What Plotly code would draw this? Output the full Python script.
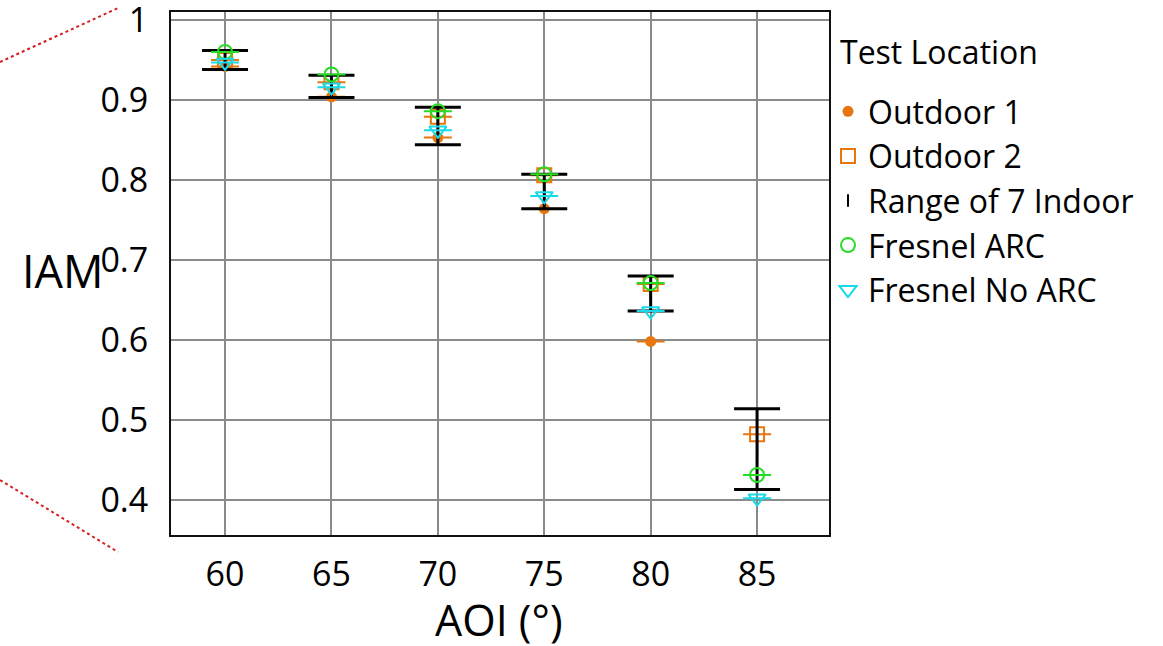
import plotly.graph_objects as go

aoi = [60, 65, 70, 75, 80, 85]
outdoor1 = [0.942, 0.904, 0.853, 0.764, 0.598, None]
outdoor2 = [0.950, 0.922, 0.879, 0.806, 0.670, 0.482]
indoor_min = [0.938, 0.903, 0.844, 0.764, 0.636, 0.413]
indoor_max = [0.962, 0.931, 0.891, 0.807, 0.680, 0.514]
fresnel_arc = [0.960, 0.932, 0.886, 0.807, 0.671, 0.431]
fresnel_noarc = [0.947, 0.916, 0.862, 0.780, 0.636, 0.402]
y_ticks = [0.4, 0.5, 0.6, 0.7, 0.8, 0.9, 1.0]
y_ticktext = ["0.4", "0.5", "0.6", "0.7", "0.8", "0.9", "1"]

ORANGE = "#E8760E"
GREEN = "#27DB27"
CYAN = "#1AD9E8"
FONT = "Open Sans"

indoor_mid = [(a + b) / 2 for a, b in zip(indoor_min, indoor_max)]
indoor_plus = [b - m for b, m in zip(indoor_max, indoor_mid)]
indoor_minus = [m - a for a, m in zip(indoor_min, indoor_mid)]

fig = go.Figure()


def cap(color):
    return dict(type="constant", value=0, width=14, thickness=2, color=color)


fig.add_trace(go.Scatter(
    x=aoi, y=outdoor1, mode="markers", name="Outdoor 1", legendgroup="a",
    marker=dict(symbol="circle", size=11, color=ORANGE),
    error_y=cap(ORANGE)))
fig.add_trace(go.Scatter(
    x=aoi, y=outdoor2, mode="markers", name="Outdoor 2", legendgroup="b",
    marker=dict(symbol="square-open", size=14, color=ORANGE, line=dict(width=2, color=ORANGE)),
    error_y=cap(ORANGE)))
fig.add_trace(go.Scatter(
    x=aoi, y=indoor_mid, mode="markers", name="Range of 7 Indoor", legendgroup="c",
    marker=dict(symbol="line-ns-open", size=9, color="black", line=dict(width=2, color="black")),
    error_y=dict(type="data", array=indoor_plus, arrayminus=indoor_minus, symmetric=False,
                 width=23, thickness=3, color="black")))
fig.add_trace(go.Scatter(
    x=aoi, y=fresnel_arc, mode="markers", name="Fresnel ARC", legendgroup="d",
    marker=dict(symbol="circle-open", size=14, color=GREEN, line=dict(width=2, color=GREEN)),
    error_y=cap(GREEN)))
fig.add_trace(go.Scatter(
    x=aoi, y=fresnel_noarc, mode="markers", name="Fresnel No ARC", legendgroup="e",
    marker=dict(symbol="triangle-down-open", size=15, color=CYAN, line=dict(width=2, color=CYAN)),
    error_y=cap(CYAN)))

L, T, R, B = 171, 12, 829, 535
W, H = 1163, 646
pw, ph = R - L, B - T


def px(x):
    return (x - L) / pw


def py(y):
    return (B - y) / ph


fig.update_layout(
    width=W, height=H,
    margin=dict(l=L, r=W - R, t=T, b=H - B, autoexpand=False),
    paper_bgcolor="white", plot_bgcolor="white",
    font=dict(family=FONT, color="black"),
    showlegend=True,
    legend=dict(
        font=dict(size=32, family=FONT),
        x=px(828), y=py(84), xanchor="left", yanchor="top",
        tracegroupgap=0, itemwidth=30, bgcolor="rgba(0,0,0,0)",
    ),
    xaxis=dict(
        range=[57.46, 88.38], tickvals=aoi, ticktext=[str(a) for a in aoi],
        showgrid=True, gridcolor="#8a8a8a", gridwidth=2, zeroline=False,
        showline=True, mirror=True, linecolor="#111", linewidth=2,
        ticks="", tickfont=dict(size=34, family=FONT), ticklabelstandoff=8,
        ticklabeloverflow="allow", automargin=False,
    ),
    yaxis=dict(
        range=[0.356, 1.01], tickvals=y_ticks, ticktext=y_ticktext,
        showgrid=True, gridcolor="#8a8a8a", gridwidth=2, zeroline=False,
        showline=True, mirror=True, linecolor="#111", linewidth=2,
        ticks="", tickfont=dict(size=34, family=FONT), ticklabelstandoff=14,
        ticklabeloverflow="allow", automargin=False,
    ),
    annotations=[
        dict(text="Test Location", xref="paper", yref="paper", x=px(838), y=py(52),
             xanchor="left", yanchor="middle", showarrow=False,
             font=dict(size=32, family=FONT)),
        dict(text="IAM", xref="paper", yref="paper", x=px(20), y=py(270),
             xanchor="left", yanchor="middle", showarrow=False,
             font=dict(size=45, family=FONT)),
        dict(text="AOI (°)", xref="paper", yref="paper", x=px(499), y=py(619),
             xanchor="center", yanchor="middle", showarrow=False,
             font=dict(size=43, family=FONT)),
    ],
    shapes=[
        dict(type="line", xref="paper", yref="paper", x0=px(0), y0=py(62), x1=px(118), y1=py(8),
             line=dict(color="#D42020", width=2, dash="dot")),
        dict(type="line", xref="paper", yref="paper", x0=px(0), y0=py(480), x1=px(118), y1=py(552),
             line=dict(color="#D42020", width=2, dash="dot")),
    ],
)

fig.write_html("out.html")
